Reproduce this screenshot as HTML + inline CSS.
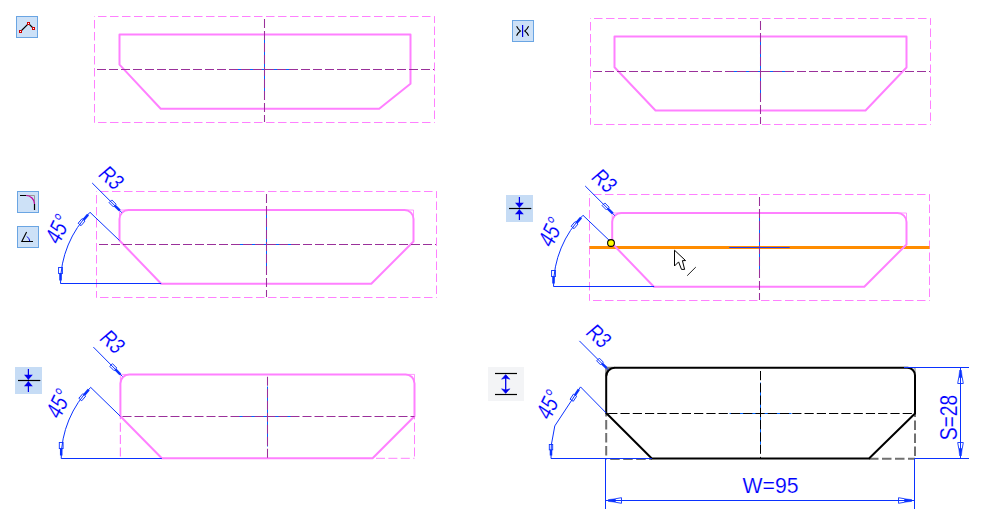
<!DOCTYPE html>
<html><head><meta charset="utf-8"><title>Sketch constraints</title>
<style>html,body{margin:0;padding:0;background:#fff;overflow:hidden}svg{display:block}text{font-family:"Liberation Sans",sans-serif}</style>
</head><body>
<svg width="988" height="518" viewBox="0 0 988 518">
<rect width="988" height="518" fill="#fff"/>
<g id="p1">
<line x1="94.5" y1="16.5" x2="434.5" y2="16.5" stroke="#ff80ff" stroke-width="1" stroke-dasharray="8.5 3.5" stroke-dashoffset="8.5"/>
<line x1="94.5" y1="122.5" x2="434.5" y2="122.5" stroke="#ff80ff" stroke-width="1" stroke-dasharray="8.5 3.5" stroke-dashoffset="8.5"/>
<line x1="94.5" y1="16.5" x2="94.5" y2="122.5" stroke="#ff80ff" stroke-width="1" stroke-dasharray="8.5 3.5" stroke-dashoffset="8.5"/>
<line x1="434.5" y1="122.5" x2="434.5" y2="16.5" stroke="#ff80ff" stroke-width="1" stroke-dasharray="8.5 3.5" stroke-dashoffset="8.5"/>
<rect x="94" y="16" width="1" height="1" fill="#ff80ff" opacity="0.6"/>
<rect x="434" y="16" width="1" height="1" fill="#ff80ff" opacity="0.6"/>
<rect x="94" y="122" width="1" height="1" fill="#ff80ff" opacity="0.6"/>
<rect x="434" y="122" width="1" height="1" fill="#ff80ff" opacity="0.6"/>
<path d="M119.5 34.5 L410.5 34.5 L410.5 83.7 L379.2 108.7 L160.7 108.7 L119.5 64.6 Z" fill="none" stroke="#ff80ff" stroke-width="2" stroke-linejoin="round"/>
<line x1="234.5" y1="69.5" x2="294.5" y2="69.5" stroke="#0066ff" stroke-width="1"/>
<line x1="264.5" y1="39.5" x2="264.5" y2="99.5" stroke="#0066ff" stroke-width="1"/>
<line x1="97" y1="69.5" x2="434" y2="69.5" stroke="#9a309a" stroke-width="1.05" stroke-dasharray="9 3"/>
<line x1="264.5" y1="19" x2="264.5" y2="122" stroke="#9a309a" stroke-width="1.05" stroke-dasharray="9 3"/>
</g>
<g id="p2">
<line x1="590.5" y1="18.5" x2="930.5" y2="18.5" stroke="#ff80ff" stroke-width="1" stroke-dasharray="8.5 3.5" stroke-dashoffset="8.5"/>
<line x1="590.5" y1="124.5" x2="930.5" y2="124.5" stroke="#ff80ff" stroke-width="1" stroke-dasharray="8.5 3.5" stroke-dashoffset="8.5"/>
<line x1="590.5" y1="18.5" x2="590.5" y2="124.5" stroke="#ff80ff" stroke-width="1" stroke-dasharray="8.5 3.5" stroke-dashoffset="8.5"/>
<line x1="930.5" y1="124.5" x2="930.5" y2="18.5" stroke="#ff80ff" stroke-width="1" stroke-dasharray="8.5 3.5" stroke-dashoffset="8.5"/>
<rect x="590" y="18" width="1" height="1" fill="#ff80ff" opacity="0.6"/>
<rect x="930" y="18" width="1" height="1" fill="#ff80ff" opacity="0.6"/>
<rect x="590" y="124" width="1" height="1" fill="#ff80ff" opacity="0.6"/>
<rect x="930" y="124" width="1" height="1" fill="#ff80ff" opacity="0.6"/>
<path d="M614.5 36.5 L906.5 36.5 L906.5 67.5 L865.5 110.5 L655.5 110.5 L614.5 67.3 Z" fill="none" stroke="#ff80ff" stroke-width="2" stroke-linejoin="round"/>
<line x1="730.5" y1="71.5" x2="790.5" y2="71.5" stroke="#0066ff" stroke-width="1"/>
<line x1="760.5" y1="41.5" x2="760.5" y2="101.5" stroke="#0066ff" stroke-width="1"/>
<line x1="593" y1="71.5" x2="930" y2="71.5" stroke="#9a309a" stroke-width="1.05" stroke-dasharray="9 3"/>
<line x1="760.5" y1="21" x2="760.5" y2="124" stroke="#9a309a" stroke-width="1.05" stroke-dasharray="9 3"/>
</g>
<g id="p3">
<line x1="96.5" y1="191.5" x2="436.5" y2="191.5" stroke="#ff80ff" stroke-width="1" stroke-dasharray="8.5 3.5" stroke-dashoffset="8.5"/>
<line x1="96.5" y1="297.5" x2="436.5" y2="297.5" stroke="#ff80ff" stroke-width="1" stroke-dasharray="8.5 3.5" stroke-dashoffset="8.5"/>
<line x1="96.5" y1="191.5" x2="96.5" y2="297.5" stroke="#ff80ff" stroke-width="1" stroke-dasharray="8.5 3.5" stroke-dashoffset="8.5"/>
<line x1="436.5" y1="297.5" x2="436.5" y2="191.5" stroke="#ff80ff" stroke-width="1" stroke-dasharray="8.5 3.5" stroke-dashoffset="8.5"/>
<rect x="96" y="191" width="1" height="1" fill="#ff80ff" opacity="0.6"/>
<rect x="436" y="191" width="1" height="1" fill="#ff80ff" opacity="0.6"/>
<rect x="96" y="297" width="1" height="1" fill="#ff80ff" opacity="0.6"/>
<rect x="436" y="297" width="1" height="1" fill="#ff80ff" opacity="0.6"/>
<path d="M128.5 210 L119.5 210 L119.5 219 M404.5 210 L413.5 210 L413.5 219" fill="none" stroke="#ff80ff" stroke-width="0.8"/>
<path d="M128.5 210 L404.5 210 A9 9 0 0 1 413.5 219 L413.5 241.5 L371.3 283.7 L161.2 283.7 L119.5 240.5 L119.5 219 A9 9 0 0 1 128.5 210 Z" fill="none" stroke="#ff80ff" stroke-width="2" stroke-linejoin="round"/>
<line x1="236.5" y1="244.5" x2="296.5" y2="244.5" stroke="#0066ff" stroke-width="1"/>
<line x1="266.5" y1="214.5" x2="266.5" y2="274.5" stroke="#0066ff" stroke-width="1"/>
<line x1="99" y1="244.5" x2="436" y2="244.5" stroke="#9a309a" stroke-width="1.05" stroke-dasharray="9 3"/>
<line x1="266.5" y1="194" x2="266.5" y2="297" stroke="#9a309a" stroke-width="1.05" stroke-dasharray="9 3"/>
<line x1="60.5" y1="283.5" x2="161.2" y2="283.5" stroke="#0a32ff" stroke-width="1"/>
<path d="M60.5 283.5 A100.7 100.7 0 0 1 89.99 212.29" fill="none" stroke="#0a32ff" stroke-width="1"/>
<line x1="89.99" y1="212.29" x2="119.5" y2="240.5" stroke="#0a32ff" stroke-width="1"/>
<g transform="translate(60.5 283.5) rotate(90)">
<rect x="-9.92" y="-1.25" width="6.92" height="2.5" fill="#0a32ff"/>
<rect x="-16" y="-1.9" width="6.08" height="3.8" fill="none" stroke="#0a32ff" stroke-width="0.9"/>
</g>
<g transform="translate(89.99 212.29) rotate(-49.5)">
<rect x="-9.92" y="-1.25" width="6.92" height="2.5" fill="#0a32ff"/>
<rect x="-16" y="-1.9" width="6.08" height="3.8" fill="none" stroke="#0a32ff" stroke-width="0.9"/>
</g>
<line x1="92.2" y1="183" x2="121.8" y2="212.6" stroke="#0a32ff" stroke-width="1"/>
<g transform="translate(121.8 212.6) rotate(45)">
<rect x="-9.92" y="-1.25" width="6.92" height="2.5" fill="#0a32ff"/>
<rect x="-16" y="-1.9" width="6.08" height="3.8" fill="none" stroke="#0a32ff" stroke-width="0.9"/>
</g>
<text transform="translate(97 175.3) rotate(42) scale(1 1.08) skewX(-8)" font-size="21" fill="#0000ff" text-anchor="start" stroke="#fff" stroke-width="0.15" textLength="23" lengthAdjust="spacingAndGlyphs">R3</text>
<text transform="translate(58.7 245.9) rotate(-64) scale(1 1.15) skewX(-8)" font-size="21" fill="#0000ff" text-anchor="start" stroke="#fff" stroke-width="0.15" textLength="28" lengthAdjust="spacingAndGlyphs">45°</text>
</g>
<g id="p4">
<line x1="589.5" y1="194.5" x2="929.5" y2="194.5" stroke="#ff80ff" stroke-width="1" stroke-dasharray="8.5 3.5" stroke-dashoffset="8.5"/>
<line x1="589.5" y1="300.5" x2="929.5" y2="300.5" stroke="#ff80ff" stroke-width="1" stroke-dasharray="8.5 3.5" stroke-dashoffset="8.5"/>
<line x1="589.5" y1="194.5" x2="589.5" y2="300.5" stroke="#ff80ff" stroke-width="1" stroke-dasharray="8.5 3.5" stroke-dashoffset="8.5"/>
<line x1="929.5" y1="300.5" x2="929.5" y2="194.5" stroke="#ff80ff" stroke-width="1" stroke-dasharray="8.5 3.5" stroke-dashoffset="8.5"/>
<rect x="589" y="194" width="1" height="1" fill="#ff80ff" opacity="0.6"/>
<rect x="929" y="194" width="1" height="1" fill="#ff80ff" opacity="0.6"/>
<rect x="589" y="300" width="1" height="1" fill="#ff80ff" opacity="0.6"/>
<rect x="929" y="300" width="1" height="1" fill="#ff80ff" opacity="0.6"/>
<line x1="589.5" y1="247.5" x2="929.5" y2="247.5" stroke="#ff8c00" stroke-width="3.2"/>
<path d="M621.2 213 L612.2 213 L612.2 222 M897.5 213 L906.5 213 L906.5 222" fill="none" stroke="#ff80ff" stroke-width="0.8"/>
<path d="M621.2 213 L897.5 213 A9 9 0 0 1 906.5 222 L906.5 244.5 L864.3 286.7 L653.9 286.7 L612.2 243.5 L612.2 222 A9 9 0 0 1 621.2 213 Z" fill="none" stroke="#ff80ff" stroke-width="2" stroke-linejoin="round"/>
<line x1="729.5" y1="247.5" x2="789.5" y2="247.5" stroke="#0066ff" stroke-width="1"/>
<line x1="759.5" y1="217.5" x2="759.5" y2="277.5" stroke="#0066ff" stroke-width="1"/>
<line x1="759.5" y1="197" x2="759.5" y2="300" stroke="#9a309a" stroke-width="1.05" stroke-dasharray="9 3"/>
<line x1="729.5" y1="247.5" x2="789.5" y2="247.5" stroke="#1a3cff" stroke-width="1.2"/>
<line x1="553.5" y1="286.5" x2="654.2" y2="286.5" stroke="#0a32ff" stroke-width="1"/>
<path d="M553.5 286.5 A100.7 100.7 0 0 1 582.99 215.29" fill="none" stroke="#0a32ff" stroke-width="1"/>
<line x1="582.99" y1="215.29" x2="612.5" y2="243.5" stroke="#0a32ff" stroke-width="1"/>
<g transform="translate(553.5 286.5) rotate(90)">
<rect x="-9.92" y="-1.25" width="6.92" height="2.5" fill="#0a32ff"/>
<rect x="-16" y="-1.9" width="6.08" height="3.8" fill="none" stroke="#0a32ff" stroke-width="0.9"/>
</g>
<g transform="translate(582.99 215.29) rotate(-49.5)">
<rect x="-9.92" y="-1.25" width="6.92" height="2.5" fill="#0a32ff"/>
<rect x="-16" y="-1.9" width="6.08" height="3.8" fill="none" stroke="#0a32ff" stroke-width="0.9"/>
</g>
<line x1="585.2" y1="186" x2="614.8" y2="215.6" stroke="#0a32ff" stroke-width="1"/>
<g transform="translate(614.8 215.6) rotate(45)">
<rect x="-9.92" y="-1.25" width="6.92" height="2.5" fill="#0a32ff"/>
<rect x="-16" y="-1.9" width="6.08" height="3.8" fill="none" stroke="#0a32ff" stroke-width="0.9"/>
</g>
<text transform="translate(590 178.3) rotate(42) scale(1 1.08) skewX(-8)" font-size="21" fill="#0000ff" text-anchor="start" stroke="#fff" stroke-width="0.15" textLength="23" lengthAdjust="spacingAndGlyphs">R3</text>
<text transform="translate(551.7 248.9) rotate(-64) scale(1 1.15) skewX(-8)" font-size="21" fill="#0000ff" text-anchor="start" stroke="#fff" stroke-width="0.15" textLength="28" lengthAdjust="spacingAndGlyphs">45°</text>
<circle cx="611" cy="243" r="3.4" fill="#ffff00" stroke="#000" stroke-width="1.1"/>
<g transform="translate(674 249.7)"><path d="M0.5 0.5 L0.5 16.3 L4.6 12.2 L7.5 19.7 L10.6 19.7 L8.4 10.9 L11.6 10.9 Z" fill="#fff" stroke="#000" stroke-width="1" stroke-linejoin="miter"/></g>
<line x1="687.2" y1="275.7" x2="695.8" y2="267.1" stroke="#222" stroke-width="1"/>
</g>
<g id="p5">
<line x1="120.4" y1="416.3" x2="120.4" y2="458.3" stroke="#ff80ff" stroke-width="1.2" stroke-dasharray="9 3.4" stroke-dashoffset="6"/>
<line x1="414.5" y1="416.3" x2="414.5" y2="458.3" stroke="#ff80ff" stroke-width="1" stroke-dasharray="9 3.4" stroke-dashoffset="6"/>
<line x1="372.6" y1="458.3" x2="414.5" y2="458.3" stroke="#ff80ff" stroke-width="1" stroke-dasharray="9 3.4" stroke-dashoffset="9"/>
<path d="M129.4 374.4 L120.4 374.4 L120.4 383.4 M405.5 374.4 L414.5 374.4 L414.5 383.4" fill="none" stroke="#ff80ff" stroke-width="0.8"/>
<path d="M129.4 374.4 L405.5 374.4 A9 9 0 0 1 414.5 383.4 L414.5 416.3 L372.6 458.3 L161.8 458.3 L120.4 416.3 L120.4 383.4 A9 9 0 0 1 129.4 374.4 Z" fill="none" stroke="#ff80ff" stroke-width="2" stroke-linejoin="round"/>
<line x1="237.5" y1="416.5" x2="297.5" y2="416.5" stroke="#0066ff" stroke-width="1"/>
<line x1="267.5" y1="386.5" x2="267.5" y2="446.5" stroke="#0066ff" stroke-width="1"/>
<line x1="122.5" y1="416.5" x2="414.5" y2="416.5" stroke="#9a309a" stroke-width="1.05" stroke-dasharray="9 3"/>
<line x1="267.5" y1="376.7" x2="267.5" y2="458.3" stroke="#9a309a" stroke-width="1.05" stroke-dasharray="9 3"/>
<line x1="61.2" y1="458.5" x2="161.8" y2="458.5" stroke="#0a32ff" stroke-width="1"/>
<path d="M61.2 458.5 A100.6 100.6 0 0 1 90.67 387.37" fill="none" stroke="#0a32ff" stroke-width="1"/>
<line x1="90.67" y1="387.37" x2="120.4" y2="416.3" stroke="#0a32ff" stroke-width="1"/>
<g transform="translate(61.2 458.5) rotate(90)">
<rect x="-9.92" y="-1.25" width="6.92" height="2.5" fill="#0a32ff"/>
<rect x="-16" y="-1.9" width="6.08" height="3.8" fill="none" stroke="#0a32ff" stroke-width="0.9"/>
</g>
<g transform="translate(90.67 387.37) rotate(-49.5)">
<rect x="-9.92" y="-1.25" width="6.92" height="2.5" fill="#0a32ff"/>
<rect x="-16" y="-1.9" width="6.08" height="3.8" fill="none" stroke="#0a32ff" stroke-width="0.9"/>
</g>
<line x1="93.4" y1="347.1" x2="122.4" y2="376.4" stroke="#0a32ff" stroke-width="1"/>
<g transform="translate(122.4 376.4) rotate(45.29)">
<rect x="-9.92" y="-1.25" width="6.92" height="2.5" fill="#0a32ff"/>
<rect x="-16" y="-1.9" width="6.08" height="3.8" fill="none" stroke="#0a32ff" stroke-width="0.9"/>
</g>
<text transform="translate(98.2 339.3) rotate(42) scale(1 1.08) skewX(-8)" font-size="21" fill="#0000ff" text-anchor="start" stroke="#fff" stroke-width="0.15" textLength="23" lengthAdjust="spacingAndGlyphs">R3</text>
<text transform="translate(59.5 420.5) rotate(-64) scale(1 1.15) skewX(-8)" font-size="21" fill="#0000ff" text-anchor="start" stroke="#fff" stroke-width="0.15" textLength="28" lengthAdjust="spacingAndGlyphs">45°</text>
</g>
<g id="p6">
<line x1="606.2" y1="413" x2="606.2" y2="458.5" stroke="#707070" stroke-width="2" stroke-dasharray="9.5 3.5" stroke-dashoffset="6"/>
<line x1="915" y1="413.5" x2="915" y2="458.5" stroke="#707070" stroke-width="2" stroke-dasharray="9.5 3.5" stroke-dashoffset="6"/>
<line x1="606.2" y1="459" x2="651.8" y2="459" stroke="#707070" stroke-width="2" stroke-dasharray="9.5 3.5" stroke-dashoffset="9"/>
<line x1="869" y1="458.8" x2="915" y2="458.8" stroke="#707070" stroke-width="2" stroke-dasharray="9.5 3.5" stroke-dashoffset="0"/>
<path d="M606.2 376.3 L606.2 367.8 L614.7 367.8 A8.5 8.5 0 0 0 606.2 376.3 Z" fill="#808080" stroke="#808080" stroke-width="2" stroke-linejoin="miter"/>
<path d="M907 367.8 L915 367.8 L915 376" fill="none" stroke="#808080" stroke-width="1"/>
<line x1="729.5" y1="413.5" x2="791.5" y2="413.5" stroke="#0066ff" stroke-width="1"/>
<line x1="760.5" y1="382.5" x2="760.5" y2="444.5" stroke="#0066ff" stroke-width="1"/>
<line x1="608.2" y1="413.5" x2="913.5" y2="413.5" stroke="#000" stroke-width="1" stroke-dasharray="9.2 3.07"/>
<line x1="760.5" y1="371" x2="760.5" y2="458" stroke="#000" stroke-width="1" stroke-dasharray="9.2 3.07"/>
<path d="M614.7 367.8 L907.5 367.8 A7.5 7.5 0 0 1 915 375.3 L915 413.5 L869 458.5 L651.8 458.5 L606.2 413 L606.2 376.3 A8.5 8.5 0 0 1 614.7 367.8 Z" fill="none" stroke="#000" stroke-width="2" stroke-linejoin="round"/>
<line x1="551" y1="458.5" x2="651.8" y2="458.5" stroke="#0a32ff" stroke-width="1"/>
<path d="M551 458.5 L551.3 445 L554.8 425.9 L580.5 386.9 L606.2 413" fill="none" stroke="#0a32ff" stroke-width="1"/>
<g transform="translate(551 458.5) rotate(90)">
<rect x="-8.68" y="-1.25" width="5.68" height="2.5" fill="#0a32ff"/>
<rect x="-14" y="-1.7" width="5.32" height="3.4" fill="none" stroke="#0a32ff" stroke-width="0.9"/>
</g>
<g transform="translate(580.5 386.9) rotate(-56.6)">
<rect x="-9.92" y="-1.25" width="6.92" height="2.5" fill="#0a32ff"/>
<rect x="-16" y="-1.9" width="6.08" height="3.8" fill="none" stroke="#0a32ff" stroke-width="0.9"/>
</g>
<line x1="579.4" y1="340.9" x2="608.6" y2="370.1" stroke="#0a32ff" stroke-width="1"/>
<g transform="translate(608.6 370.1) rotate(45)">
<rect x="-9.3" y="-1.25" width="6.3" height="2.5" fill="#0a32ff"/>
<rect x="-15" y="-1.9" width="5.7" height="3.8" fill="none" stroke="#0a32ff" stroke-width="0.9"/>
</g>
<text transform="translate(584.4 333.5) rotate(42) scale(1 1.08) skewX(-8)" font-size="21" fill="#0000ff" text-anchor="start" stroke="#fff" stroke-width="0.15" textLength="23" lengthAdjust="spacingAndGlyphs">R3</text>
<text transform="translate(549.7 421.4) rotate(-64) scale(1 1.15) skewX(-8)" font-size="21" fill="#0000ff" text-anchor="start" stroke="#fff" stroke-width="0.15" textLength="28" lengthAdjust="spacingAndGlyphs">45°</text>
<line x1="605.5" y1="458.5" x2="605.5" y2="509" stroke="#0a32ff" stroke-width="1"/>
<line x1="914.5" y1="458.5" x2="914.5" y2="509" stroke="#0a32ff" stroke-width="1"/>
<line x1="605.5" y1="500.5" x2="914.5" y2="500.5" stroke="#0a32ff" stroke-width="1"/>
<g transform="translate(605.5 500.5) rotate(180)">
<path d="M-9.92 -1.74 L-16 -2.8 L-16 2.8 L-9.92 1.74" fill="none" stroke="#0a32ff" stroke-width="0.9"/>
<path d="M-2 0 L-3 -0.9 L-9.92 -1.74 L-9.92 1.74 L-3 0.9 Z" fill="#0a32ff" stroke="#0a32ff" stroke-width="0.5"/>
</g>
<g transform="translate(914.5 500.5) rotate(0)">
<path d="M-9.92 -1.74 L-16 -2.8 L-16 2.8 L-9.92 1.74" fill="none" stroke="#0a32ff" stroke-width="0.9"/>
<path d="M-2 0 L-3 -0.9 L-9.92 -1.74 L-9.92 1.74 L-3 0.9 Z" fill="#0a32ff" stroke="#0a32ff" stroke-width="0.5"/>
</g>
<text transform="translate(742.6 493) scale(1 1.07)" font-size="21" fill="#0000ff" text-anchor="start" stroke="#fff" stroke-width="0.15" textLength="56" lengthAdjust="spacingAndGlyphs">W=95</text>
<line x1="904" y1="367.5" x2="969" y2="367.5" stroke="#0a32ff" stroke-width="1"/>
<line x1="915" y1="458.5" x2="969" y2="458.5" stroke="#0a32ff" stroke-width="1"/>
<line x1="960.5" y1="367.5" x2="960.5" y2="458.5" stroke="#0a32ff" stroke-width="1"/>
<g transform="translate(960.5 367.5) rotate(-90)">
<path d="M-9.92 -1.74 L-16 -2.8 L-16 2.8 L-9.92 1.74" fill="none" stroke="#0a32ff" stroke-width="0.9"/>
<path d="M-2 0 L-3 -0.9 L-9.92 -1.74 L-9.92 1.74 L-3 0.9 Z" fill="#0a32ff" stroke="#0a32ff" stroke-width="0.5"/>
</g>
<g transform="translate(960.5 458.5) rotate(90)">
<path d="M-9.92 -1.74 L-16 -2.8 L-16 2.8 L-9.92 1.74" fill="none" stroke="#0a32ff" stroke-width="0.9"/>
<path d="M-2 0 L-3 -0.9 L-9.92 -1.74 L-9.92 1.74 L-3 0.9 Z" fill="#0a32ff" stroke="#0a32ff" stroke-width="0.5"/>
</g>
<text transform="translate(956.5 440.3) rotate(-90) scale(1 1.12)" font-size="21" fill="#0000ff" text-anchor="start" stroke="#fff" stroke-width="0.15" textLength="45.5" lengthAdjust="spacingAndGlyphs">S=28</text>
</g>
<g id="icons">
<rect x="16.5" y="16.5" width="21" height="21" fill="#cde1f7" stroke="#6aa5e3" stroke-width="1"/>
<path d="M20.5 31.5 L28.5 23.5 L33.5 28.5" fill="none" stroke="#000" stroke-width="1.1"/>
<rect x="19.5" y="30.5" width="2" height="2" fill="#fff" stroke="#cc0000" stroke-width="1"/>
<rect x="27.5" y="22.5" width="2" height="2" fill="#fff" stroke="#cc0000" stroke-width="1"/>
<rect x="32.5" y="27.5" width="2" height="2" fill="#fff" stroke="#cc0000" stroke-width="1"/>
<rect x="512.5" y="20.5" width="21" height="21" fill="#cde1f7" stroke="#6aa5e3" stroke-width="1"/>
<line x1="522.6" y1="25" x2="522.6" y2="37" stroke="#0000dd" stroke-width="1.2"/>
<path d="M516.6 26.3 Q518.2 29.5 520.4 31 Q518.2 32.5 516.6 35.7 M528.6 26.3 Q527 29.5 524.8 31 Q527 32.5 528.6 35.7" fill="none" stroke="#000" stroke-width="1.1"/>
<rect x="17.5" y="191.5" width="21" height="21" fill="#cde1f7" stroke="#6aa5e3" stroke-width="1"/>
<path d="M27 195.5 L34.5 195.5 L34.5 203" fill="none" stroke="#999" stroke-width="1"/>
<path d="M20 195.5 L26 195.5 M34.5 204 L34.5 210" fill="none" stroke="#000" stroke-width="1.2"/>
<path d="M26 195.5 A8.5 8.5 0 0 1 34.5 204" fill="none" stroke="#c000a0" stroke-width="1.2"/>
<rect x="17.5" y="226.5" width="21" height="21" fill="#cde1f7" stroke="#6aa5e3" stroke-width="1"/>
<path d="M26.6 232 L21.8 241.5 L33 241.5" fill="none" stroke="#000" stroke-width="1.1"/>
<path d="M27 236.5 Q29.5 238.5 29.8 241.2" fill="none" stroke="#0000dd" stroke-width="1"/>
<rect x="506" y="195" width="27" height="27" fill="#c6dcf5"/>
<line x1="509" y1="208.5" x2="531.3" y2="208.5" stroke="#000" stroke-width="1.2"/>
<line x1="519.4" y1="197" x2="519.4" y2="207.5" stroke="#0000ee" stroke-width="1.2"/>
<line x1="519.4" y1="220" x2="519.4" y2="209.5" stroke="#0000ee" stroke-width="1.2"/>
<path d="M515 202.7 L523.8 202.7 L519.4 207.7 Z" fill="#0000ee"/>
<path d="M515 214.3 L523.8 214.3 L519.4 209.3 Z" fill="#0000ee"/>
<rect x="15" y="367" width="27" height="27" fill="#c6dcf5"/>
<line x1="18" y1="380.5" x2="40.3" y2="380.5" stroke="#000" stroke-width="1.2"/>
<line x1="28.4" y1="369" x2="28.4" y2="379.5" stroke="#0000ee" stroke-width="1.2"/>
<line x1="28.4" y1="392" x2="28.4" y2="381.5" stroke="#0000ee" stroke-width="1.2"/>
<path d="M24 374.7 L32.8 374.7 L28.4 379.7 Z" fill="#0000ee"/>
<path d="M24 386.3 L32.8 386.3 L28.4 381.3 Z" fill="#0000ee"/>
<rect x="488" y="367" width="36" height="34" fill="#f3f4f6"/>
<line x1="495" y1="373.5" x2="517" y2="373.5" stroke="#000" stroke-width="1.2"/>
<line x1="495" y1="394.5" x2="517" y2="394.5" stroke="#000" stroke-width="1.2"/>
<line x1="505.7" y1="377" x2="505.7" y2="391" stroke="#0000ee" stroke-width="1.3"/>
<path d="M501.6 379.2 L505.7 374.6 L509.8 379.2 L505.7 378 Z M501.6 388.8 L505.7 393.4 L509.8 388.8 L505.7 390 Z" fill="#0000ee" stroke="#0000ee" stroke-width="0.6" stroke-linejoin="round"/>
</g>
</svg>
</body></html>
